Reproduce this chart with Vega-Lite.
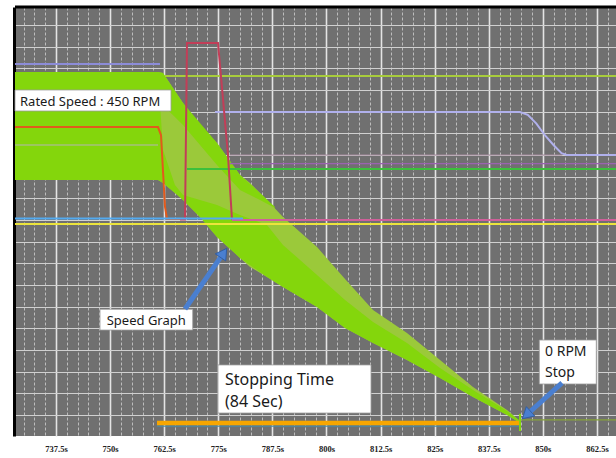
{
  "$schema": "https://vega.github.io/schema/vega-lite/v6.json",
  "width": 601,
  "height": 429,
  "autosize": {"type": "none"},
  "padding": {"left": 15, "top": 7, "right": 0, "bottom": 22},
  "background": "white",
  "view": {"fill": "#707070", "stroke": null},
  "config": {"text": {"font": "Noto Sans"}},
  "datasets": {
    "env": [
      {"t": 728.03, "u": 15.83, "l": 10.85},
      {"t": 761.07, "u": 15.83, "l": 10.85},
      {"t": 762.23, "u": 15.78, "l": 10.71},
      {"t": 764.99, "u": 14.95, "l": 10.25},
      {"t": 766.85, "u": 14.40, "l": 9.92},
      {"t": 770.77, "u": 13.38, "l": 9.14},
      {"t": 774.70, "u": 12.55, "l": 8.22},
      {"t": 780.02, "u": 11.08, "l": 7.25},
      {"t": 782.33, "u": 10.71, "l": 6.83},
      {"t": 786.25, "u": 9.92, "l": 6.37},
      {"t": 789.95, "u": 9.14, "l": 5.91},
      {"t": 797.81, "u": 7.75, "l": 4.98},
      {"t": 804.28, "u": 6.28, "l": 4.02},
      {"t": 810.75, "u": 4.85, "l": 3.32},
      {"t": 818.60, "u": 3.78, "l": 2.54},
      {"t": 826.23, "u": 2.54, "l": 1.71},
      {"t": 833.85, "u": 1.29, "l": 0.83},
      {"t": 841.71, "u": 0.23, "l": 0.0},
      {"t": 844.71, "u": -0.28, "l": -0.37}
    ],
    "strip1": [
      {"t": 728.03, "u": 15.83, "l": 10.85},
      {"t": 761.07, "u": 15.83, "l": 10.85},
      {"t": 762.23, "u": 12.23, "l": 10.71},
      {"t": 764.99, "u": 10.62, "l": 10.25},
      {"t": 766.85, "u": 10.15, "l": 9.92},
      {"t": 770.77, "u": 9.92, "l": 9.14},
      {"t": 774.70, "u": 9.69, "l": 8.22},
      {"t": 780.02, "u": 9.23, "l": 7.25},
      {"t": 786.25, "u": 8.77, "l": 6.37},
      {"t": 789.95, "u": 7.85, "l": 5.91},
      {"t": 797.81, "u": 6.46, "l": 4.98},
      {"t": 804.28, "u": 5.31, "l": 4.02},
      {"t": 810.75, "u": 4.29, "l": 3.32},
      {"t": 818.60, "u": 3.32, "l": 2.54},
      {"t": 826.23, "u": 2.17, "l": 1.71},
      {"t": 833.85, "u": 1.15, "l": 0.83},
      {"t": 841.71, "u": 0.18, "l": 0.0},
      {"t": 844.71, "u": -0.28, "l": -0.37}
    ],
    "strip2": [
      {"t": 761.07, "u": 15.83, "l": 14.54},
      {"t": 762.23, "u": 15.78, "l": 14.30},
      {"t": 766.85, "u": 14.40, "l": 13.38},
      {"t": 774.70, "u": 12.55, "l": 11.54},
      {"t": 780.02, "u": 11.08, "l": 10.38},
      {"t": 784.64, "u": 10.25, "l": 9.92},
      {"t": 788.10, "u": 9.60, "l": 9.55}
    ],
    "lines": [
      {"s": "purpleTop", "i": 0, "t": 728.03, "v": 16.2},
      {"s": "purpleTop", "i": 1, "t": 761.53, "v": 16.2},
      {"s": "olive", "i": 0, "t": 762.69, "v": 15.65},
      {"s": "olive", "i": 1, "t": 866.89, "v": 15.65},
      {"s": "lavender", "i": 0, "t": 774.24, "v": 13.98},
      {"s": "lavender", "i": 1, "t": 844.71, "v": 13.98},
      {"s": "lavender", "i": 2, "t": 846.5, "v": 13.85},
      {"s": "lavender", "i": 3, "t": 848.5, "v": 13.45},
      {"s": "lavender", "i": 4, "t": 850.5, "v": 12.9},
      {"s": "lavender", "i": 5, "t": 852.5, "v": 12.45},
      {"s": "lavender", "i": 6, "t": 854.3, "v": 12.08},
      {"s": "lavender", "i": 7, "t": 855.5, "v": 12.0},
      {"s": "lavender", "i": 8, "t": 866.89, "v": 12.0},
      {"s": "mauve", "i": 0, "t": 777.71, "v": 12.0},
      {"s": "mauve", "i": 1, "t": 854.5, "v": 12.0},
      {"s": "purple", "i": 0, "t": 777.71, "v": 11.6},
      {"s": "purple", "i": 1, "t": 866.89, "v": 11.6},
      {"s": "green", "i": 0, "t": 767.77, "v": 11.35},
      {"s": "green", "i": 1, "t": 866.89, "v": 11.35},
      {"s": "gray", "i": 0, "t": 728.03, "v": 12.46},
      {"s": "gray", "i": 1, "t": 761.07, "v": 12.46},
      {"s": "orangeRed", "i": 0, "t": 728.03, "v": 13.29},
      {"s": "orangeRed", "i": 1, "t": 761.07, "v": 13.29},
      {"s": "orangeRed", "i": 2, "t": 761.76, "v": 12.92},
      {"s": "orangeRed", "i": 3, "t": 762.69, "v": 9.6},
      {"s": "orangeRed", "i": 4, "t": 763.15, "v": 9.05},
      {"s": "orangeRed", "i": 5, "t": 766.15, "v": 9.05},
      {"s": "crimson", "i": 0, "t": 766.15, "v": 9.02},
      {"s": "crimson", "i": 1, "t": 767.31, "v": 9.02},
      {"s": "crimson", "i": 2, "t": 767.77, "v": 17.17},
      {"s": "crimson", "i": 3, "t": 774.93, "v": 17.17},
      {"s": "crimson", "i": 4, "t": 777.24, "v": 12.0},
      {"s": "crimson", "i": 5, "t": 778.17, "v": 9.0},
      {"s": "pink", "i": 0, "t": 778.17, "v": 9.0},
      {"s": "pink", "i": 1, "t": 866.89, "v": 9.0},
      {"s": "blue", "i": 0, "t": 728.03, "v": 9.07},
      {"s": "blue", "i": 1, "t": 780.7, "v": 9.07},
      {"s": "yellow", "i": 0, "t": 728.03, "v": 8.82},
      {"s": "yellow", "i": 1, "t": 866.89, "v": 8.82},
      {"s": "afterStop", "i": 0, "t": 844.71, "v": -0.23},
      {"s": "afterStop", "i": 1, "t": 866.89, "v": -0.23},
      {"s": "teal", "i": 0, "t": 760.84, "v": -0.51},
      {"s": "teal", "i": 1, "t": 844.71, "v": -0.51},
      {"s": "stopBar", "i": 0, "t": 760.84, "v": -0.37},
      {"s": "stopBar", "i": 1, "t": 844.71, "v": -0.37},
      {"s": "spike", "i": 0, "t": 844.71, "v": 0.05},
      {"s": "spike", "i": 1, "t": 844.71, "v": -0.74}
    ],
    "boxes": [
      {"name": "rated", "t": 728.03, "t2": 764.07, "v": 15.0, "v2": 14.03},
      {"name": "speedgraph", "t": 747.67, "t2": 769.09, "v": 4.88, "v2": 3.92},
      {"name": "stopping", "t": 774.93, "t2": 810.29, "v": 2.31, "v2": 0.09},
      {"name": "zero", "t": 849.17, "t2": 862.34, "v": 3.46, "v2": 1.43}
    ],
    "texts": [
      {"label": "Rated Speed : 450 RPM", "t": 729.19, "v": 14.46},
      {"label": "Speed Graph", "t": 749.22, "v": 4.34},
      {"label": "Stopping Time", "t": 776.55, "v": 1.62},
      {"label": "(84 Sec)", "t": 776.55, "v": 0.61},
      {"label": "0 RPM", "t": 850.49, "v": 2.93},
      {"label": "Stop", "t": 850.49, "v": 1.96}
    ],
    "arrows": [
      {"a": "speed", "t": 767.31, "v": 4.89, "t2": 776.23, "v2": 7.48},
      {"a": "stop", "t": 854.42, "v": 1.48, "t2": 846.21, "v2": 0.0}
    ]
  },
  "layer": [
    {
      "data": {"name": "env"},
      "mark": {"type": "area", "color": "#9bc93a"},
      "encoding": {
        "x": {"field": "t", "type": "quantitative", "title": null,
          "scale": {"domain": [728.03, 866.89], "nice": false, "zero": false},
          "axis": {
            "orient": "bottom",
            "values": [730,732.5,735,737.5,740,742.5,745,747.5,750,752.5,755,757.5,760,762.5,765,767.5,770,772.5,775,777.5,780,782.5,785,787.5,790,792.5,795,797.5,800,802.5,805,807.5,810,812.5,815,817.5,820,822.5,825,827.5,830,832.5,835,837.5,840,842.5,845,847.5,850,852.5,855,857.5,860,862.5,865],
            "tickCount": 200,
            "domain": false, "ticks": false,
            "labelExpr": "datum.value % 12.5 === 0 ? datum.value + 's' : ''",
            "labelFont": "Liberation Serif", "labelFontWeight": "bold", "labelFontSize": 8.5, "labelColor": "#222222",
            "labelPadding": 8, "labelOverlap": false, "labelFlush": false, "labelBound": false,
            "grid": true,
            "gridColor": {"condition": {"test": "datum.value % 12.5 === 0", "value": "#e4e4e4"}, "value": "#bdbdbd"},
            "gridDash": {"condition": {"test": "datum.value % 12.5 === 0", "value": []}, "value": [3, 2]},
            "gridWidth": {"condition": {"test": "datum.value % 12.5 === 0", "value": 1.6}, "value": 1}
          }},
        "y": {"field": "u", "type": "quantitative", "title": null,
          "scale": {"domain": [-0.97, 18.83], "nice": false, "zero": false},
          "axis": {"values": [0,1,2,3,4,5,6,7,8,9,10,11,12,13,14,15,16,17,18], "tickCount": 200, "grid": true, "gridColor": "#d0d0d0", "gridWidth": 1, "labels": false, "ticks": false, "domain": true, "domainColor": "#000000", "domainWidth": 3, "offset": 1}},
        "y2": {"field": "l"}
      }
    },
    {
      "data": {"name": "strip1"},
      "mark": {"type": "area", "color": "#84d60c"},
      "encoding": {
        "x": {"field": "t", "type": "quantitative", "title": null},
        "y": {"field": "u", "type": "quantitative", "title": null},
        "y2": {"field": "l"}
      }
    },
    {
      "data": {"name": "strip2"},
      "mark": {"type": "area", "color": "#84d60c"},
      "encoding": {
        "x": {"field": "t", "type": "quantitative", "title": null},
        "y": {"field": "u", "type": "quantitative", "title": null},
        "y2": {"field": "l"}
      }
    },
    {
      "data": {"name": "lines"},
      "transform": [{"filter": {"field": "s", "oneOf": ["mauve", "purple", "gray", "afterStop", "teal"]}}],
      "mark": {"type": "line", "strokeWidth": 1.2},
      "encoding": {
        "x": {"field": "t", "type": "quantitative", "title": null},
        "y": {"field": "v", "type": "quantitative", "title": null},
        "order": {"field": "i"},
        "color": {"field": "s", "type": "nominal", "legend": null,
          "scale": {"domain": ["purpleTop","olive","lavender","mauve","purple","green","gray","orangeRed","crimson","pink","blue","yellow","afterStop","teal"],
            "range": ["#8c8cd8","#a8cc3c","#b0b0ec","#a4889c","#9a62b0","#3cc03c","#b4b4b4","#e25a1c","#c23e58","#d0609a","#52aaf0","#ece43c","#86a23a","#4a8aa6"]}}
      }
    },
    {
      "data": {"name": "lines"},
      "transform": [{"filter": {"field": "s", "oneOf": ["purpleTop", "olive", "lavender", "green", "orangeRed", "crimson", "pink", "blue", "yellow"]}}],
      "mark": {"type": "line", "strokeWidth": 2},
      "encoding": {
        "x": {"field": "t", "type": "quantitative", "title": null},
        "y": {"field": "v", "type": "quantitative", "title": null},
        "order": {"field": "i"},
        "color": {"field": "s", "type": "nominal", "legend": null,
          "scale": {"domain": ["purpleTop","olive","lavender","mauve","purple","green","gray","orangeRed","crimson","pink","blue","yellow","afterStop","teal"],
            "range": ["#8c8cd8","#a8cc3c","#b0b0ec","#a4889c","#9a62b0","#3cc03c","#b4b4b4","#e25a1c","#c23e58","#d0609a","#52aaf0","#ece43c","#86a23a","#4a8aa6"]}}
      }
    },
    {
      "data": {"name": "lines"},
      "transform": [{"filter": {"field": "s", "equal": "stopBar"}}],
      "mark": {"type": "line", "strokeWidth": 4.5, "color": "#f7a600"},
      "encoding": {
        "x": {"field": "t", "type": "quantitative", "title": null},
        "y": {"field": "v", "type": "quantitative", "title": null},
        "order": {"field": "i"}
      }
    },
    {
      "data": {"name": "lines"},
      "transform": [{"filter": {"field": "s", "equal": "spike"}}],
      "mark": {"type": "line", "strokeWidth": 2, "color": "#84d60c"},
      "encoding": {
        "x": {"field": "t", "type": "quantitative", "title": null},
        "y": {"field": "v", "type": "quantitative", "title": null},
        "order": {"field": "i"}
      }
    },
    {
      "data": {"values": [{}]},
      "mark": {"type": "rule", "color": "#000000", "strokeWidth": 3},
      "encoding": {"y": {"datum": 18.83, "type": "quantitative", "title": null}}
    },
    {
      "data": {"name": "boxes"},
      "mark": {"type": "rect", "fill": "#ffffff", "stroke": "#9a9a9a", "strokeWidth": 0.8},
      "encoding": {
        "x": {"field": "t", "type": "quantitative", "title": null},
        "x2": {"field": "t2"},
        "y": {"field": "v", "type": "quantitative", "title": null},
        "y2": {"field": "v2"}
      }
    },
    {
      "data": {"name": "texts"},
      "transform": [{"filter": {"field": "label", "oneOf": ["Rated Speed : 450 RPM", "Speed Graph"]}}],
      "mark": {"type": "text", "align": "left", "baseline": "middle", "fontSize": 13, "color": "#1a1a1a"},
      "encoding": {
        "x": {"field": "t", "type": "quantitative", "title": null},
        "y": {"field": "v", "type": "quantitative", "title": null},
        "text": {"field": "label"}
      }
    },
    {
      "data": {"name": "texts"},
      "transform": [{"filter": {"field": "label", "oneOf": ["Stopping Time", "(84 Sec)"]}}],
      "mark": {"type": "text", "align": "left", "baseline": "middle", "fontSize": 16, "color": "#1a1a1a"},
      "encoding": {
        "x": {"field": "t", "type": "quantitative", "title": null},
        "y": {"field": "v", "type": "quantitative", "title": null},
        "text": {"field": "label"}
      }
    },
    {
      "data": {"name": "texts"},
      "transform": [{"filter": {"field": "label", "oneOf": ["0 RPM", "Stop"]}}],
      "mark": {"type": "text", "align": "left", "baseline": "middle", "fontSize": 14, "color": "#1a1a1a"},
      "encoding": {
        "x": {"field": "t", "type": "quantitative", "title": null},
        "y": {"field": "v", "type": "quantitative", "title": null},
        "text": {"field": "label"}
      }
    },
    {
      "data": {"name": "arrows"},
      "mark": {"type": "rule", "strokeWidth": 5, "color": "#4a7fd0", "strokeCap": "butt"},
      "encoding": {
        "x": {"field": "t", "type": "quantitative", "title": null},
        "y": {"field": "v", "type": "quantitative", "title": null},
        "x2": {"field": "t2"},
        "y2": {"field": "v2"}
      }
    },
    {
      "data": {"name": "arrows"},
      "transform": [{"filter": {"field": "a", "equal": "speed"}}],
      "mark": {"type": "point", "shape": "triangle-up", "filled": true, "size": 160, "angle": 34.5, "fill": "#4a7fd0", "stroke": "#2c5aa0", "strokeWidth": 0.8, "opacity": 1},
      "encoding": {
        "x": {"field": "t2", "type": "quantitative", "title": null},
        "y": {"field": "v2", "type": "quantitative", "title": null}
      }
    },
    {
      "data": {"name": "arrows"},
      "transform": [{"filter": {"field": "a", "equal": "stop"}}],
      "mark": {"type": "point", "shape": "triangle-up", "filled": true, "size": 160, "angle": 228, "fill": "#4a7fd0", "stroke": "#2c5aa0", "strokeWidth": 0.8, "opacity": 1},
      "encoding": {
        "x": {"field": "t2", "type": "quantitative", "title": null},
        "y": {"field": "v2", "type": "quantitative", "title": null}
      }
    }
  ]
}
